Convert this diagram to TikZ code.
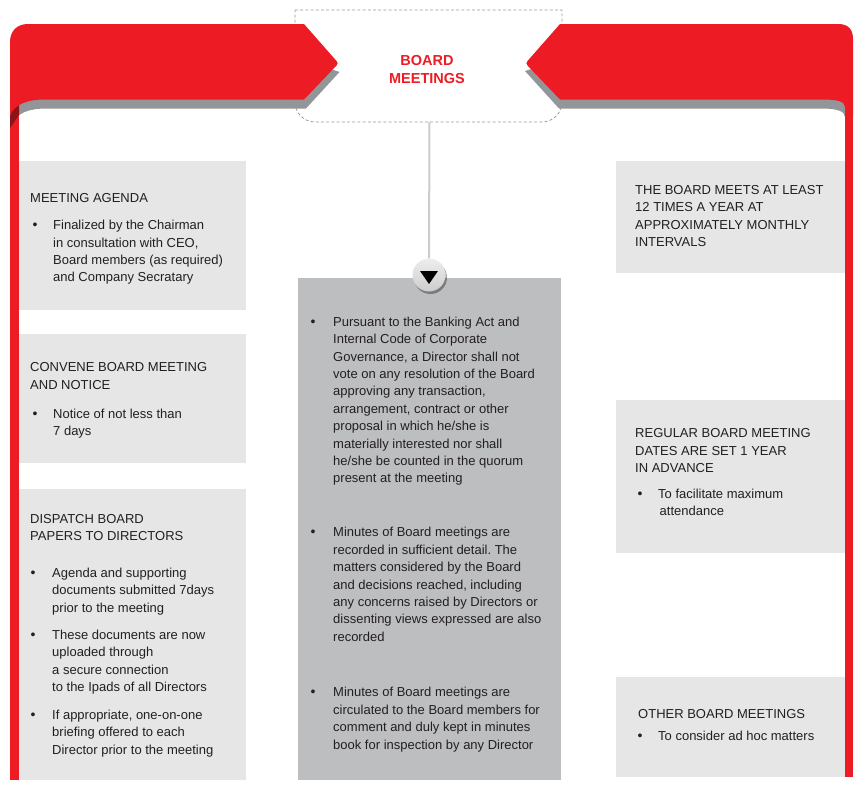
\documentclass[tikz,border=0pt]{standalone}
\usepackage{fontspec}
\setmainfont{Liberation Sans}
\frenchspacing
\definecolor{bred}{HTML}{ED1C24}
\definecolor{shadowc}{HTML}{939598}
\definecolor{dredc}{HTML}{8A1418}
\definecolor{lboxc}{HTML}{E6E6E6}
\definecolor{cboxc}{HTML}{BDBEC0}
\definecolor{dashc}{HTML}{9A9A9A}
\definecolor{vlinec}{HTML}{CCCCCC}
\definecolor{txtc}{HTML}{231F20}
\newcommand{\firststrut}{\rule{0pt}{12pt}}
\tikzset{
  txt/.style={anchor=north west, inner sep=0pt, align=left, text=txtc,
    font=\fontsize{13}{17.3}\selectfont},
  ctxt/.style={txt, font=\fontsize{13}{17.4}\selectfont},
  bul/.style={anchor=base, inner sep=0pt, text=txtc, font=\fontsize{14}{17.3}\selectfont},
  lbox/.style={fill=lboxc},
  cbox/.style={fill=cboxc},
  band/.style={fill=bred},
  dashbox/.style={draw=dashc, line width=0.8pt, dash pattern=on 3pt off 2.2pt},
  vline/.style={draw=vlinec, line width=2pt},
  titlestyle/.style={anchor=north, inner sep=0pt, align=center, text=bred,
    font=\fontsize{14.5}{17.6}\selectfont\bfseries},
}
\begin{document}
\begin{tikzpicture}[x=1pt,y=-1pt]
\useasboundingbox (0,0) rectangle (863,790);

% content boxes
\path[lbox] (19,161) rectangle (246,310);
\path[lbox] (19,334) rectangle (246,463);
\path[lbox] (19,489) rectangle (246,780);
\path[cbox] (298,278) rectangle (561,780);
\path[lbox] (616,161) rectangle (845,273);
\path[lbox] (616,400) rectangle (845,553);
\path[lbox] (616,677) rectangle (845,777);

% vertical red bars
\path[band] (10,100) rectangle (19,780);
\path[band] (845,100) rectangle (853,777);

% shadows
\begin{scope}
  \clip (19,0) rectangle (430,200);
  \fill[shadowc] (10,60) -- (304,60) -- (339.5,72) -- (306,108.5) -- (47,108.5)
     .. controls (30,108.5) and (16,112) .. (12,126) -- (10,126) -- cycle;
\end{scope}
\begin{scope}
  \clip (0,0) rectangle (19,200);
  \fill[dredc] (10,60) -- (304,60) -- (339.5,72) -- (306,108.5) -- (47,108.5)
     .. controls (30,108.5) and (19,112) .. (17,118) -- (10,128) -- cycle;
\end{scope}
\begin{scope}
  \clip (430,0) rectangle (845,200);
  \fill[shadowc] (855,60) -- (560,60) -- (525,71) -- (559,108.5) -- (822,108.5)
     .. controls (836,108.5) and (845,111) .. (845,117) -- (855,117) -- cycle;
\end{scope}

% dashed title box
\draw[dashbox] (295,10) -- (562,10) -- (562,102)
   .. controls (562,113) and (553,122) .. (542,122) -- (315,122)
   .. controls (304,122) and (295,113) .. (295,102) -- cycle;

% red bands
\path[band] (10,116) -- (10,42) .. controls (10,31) and (17,24) .. (28,24)
   -- (304,24) -- (336.5,61) .. controls (338,62.5) and (338,64) .. (336.5,65.5)
   -- (304,99.5) -- (45,99.5) .. controls (28,99.5) and (14,104) .. (10,116) -- cycle;
\path[band] (853,116) -- (853,39) .. controls (853,29) and (848,24) .. (838,24)
   -- (560,24) -- (527.5,61) .. controls (526,62.5) and (526,64) .. (527.5,65.5)
   -- (560,99.5) -- (822,99.5) .. controls (836,99.5) and (845,101) .. (845,107)
   -- (845,116) -- cycle;

% title
\node[titlestyle] (title) at (427,52.7) {\rule{0pt}{13pt}BOARD\\MEETINGS};
\coordinate (boxbot) at (429.5,122);

% connector and circle
\fill[black, opacity=0.35] (430.5,277.5) circle (16.5);
\node[circle, minimum size=33pt, inner sep=0pt, top color=white!93!black,
      bottom color=white!80!black] (circ) at (429,275) {};
\draw[vline] (boxbot) -- (circ.north);
\fill[black] (420,271) -- (438,271) -- (429,284) -- cycle;

% left box 1
\node[txt] (h1) at (30,190) {\firststrut MEETING AGENDA};
\node[bul] (b1a) at (35,229.5) {•};
\node[txt] (t1a) at (53,217.5) {\firststrut Finalized by the Chairman\\
  in consultation with CEO,\\Board members (as required)\\and Company Secratary};

% left box 2
\node[txt] (h2) at (30,359.7) {\firststrut CONVENE BOARD MEETING\\AND NOTICE};
\node[bul] (b2a) at (35,418.3) {•};
\node[txt] (t2a) at (53,406.3) {\firststrut Notice of not less than\\7 days};

% left box 3
\node[txt] (h3) at (30,511.3) {\firststrut DISPATCH BOARD\\PAPERS TO DIRECTORS};
\node[bul] (b3a) at (33,577.3) {•};
\node[txt] (t3a) at (52,565.3) {\firststrut Agenda and supporting\\documents submitted 7days\\prior to the meeting};
\node[bul] (b3b) at (33,639.3) {•};
\node[txt] (t3b) at (52,627.3) {\firststrut These documents are now\\uploaded through\\a secure connection\\to the Ipads of all Directors};
\node[bul] (b3c) at (33,719.3) {•};
\node[txt] (t3c) at (52,707.3) {\firststrut If appropriate, one-on-one\\briefing offered to each\\Director prior to the meeting};

% center box
\node[bul] (bca) at (313,326) {•};
\node[ctxt] (tca) at (333,314) {\firststrut Pursuant to the Banking Act and\\Internal Code of Corporate\\Governance, a Director shall not\\vote on any resolution of the Board\\approving any transaction,\\arrangement, contract or other\\proposal in which he/she is\\materially interested nor shall\\he/she be counted in the quorum\\present at the meeting};
\node[bul] (bcb) at (313,536.7) {•};
\node[ctxt] (tcb) at (333,524.7) {\firststrut Minutes of Board meetings are\\recorded in sufficient detail. The\\matters considered by the Board\\and decisions reached, including\\any concerns raised by Directors or\\dissenting views expressed are also\\recorded};
\node[bul] (bcc) at (313,696.7) {•};
\node[ctxt] (tcc) at (333,684.7) {\firststrut Minutes of Board meetings are\\circulated to the Board members for\\comment and duly kept in minutes\\book for inspection by any Director};

% right boxes
\node[txt] (hr1) at (635,182.3) {\firststrut THE BOARD MEETS AT LEAST\\12 TIMES A YEAR AT\\APPROXIMATELY MONTHLY\\INTERVALS};
\node[txt] (hr2) at (635,425.7) {\firststrut REGULAR BOARD MEETING\\DATES ARE SET 1 YEAR\\IN ADVANCE};
\node[bul] (br2) at (640,498.3) {•};
\node[txt] (tr2) at (658,486.3) {\firststrut To facilitate maximum\\\hspace{1.5pt}attendance};
\node[txt] (hr3) at (638,706.3) {\firststrut OTHER BOARD MEETINGS};
\node[bul] (br3) at (640,740) {•};
\node[txt] (tr3) at (658,728) {\firststrut To consider ad hoc matters};
\end{tikzpicture}
\end{document}
